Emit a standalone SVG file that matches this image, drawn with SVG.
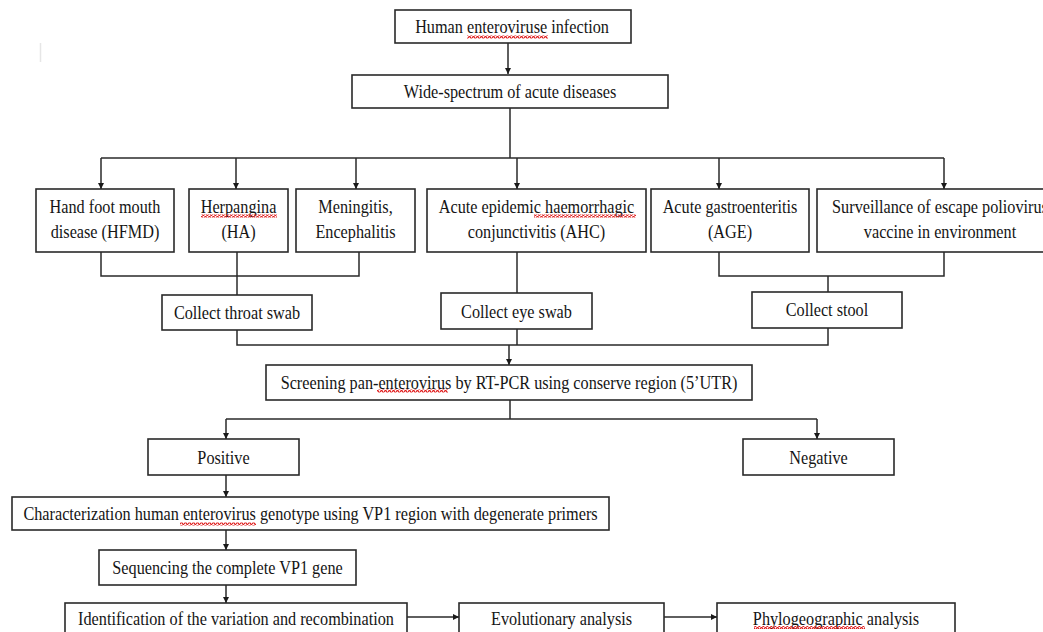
<svg xmlns="http://www.w3.org/2000/svg" width="1043" height="632" viewBox="0 0 1043 632">
<style>
.box{fill:#fff;stroke:#2a2a2a;stroke-width:1.6}
.ln{fill:none;stroke:#2a2a2a;stroke-width:1.5}
.ar{fill:none;stroke:#2a2a2a;stroke-width:1.5;marker-end:url(#ah)}
text{font-family:"Liberation Serif","Times New Roman",serif;font-size:19px;fill:#151515;text-anchor:middle}
.wv{fill:url(#wavy)}
</style>
<defs>
<marker id="ah" viewBox="0 0 10 10" refX="10" refY="5" markerWidth="6" markerHeight="7" markerUnits="userSpaceOnUse" orient="auto">
<path d="M0,0 L10,5 L0,10 Z" fill="#1a1a1a"/>
</marker>
<pattern id="wavy" width="4" height="3" patternUnits="userSpaceOnUse">
<path d="M0,2.3 L1,0.7 L2,0.7 L3,2.3 L4,2.3" fill="none" stroke="#e02020" stroke-width="1.2"/>
</pattern>
</defs>
<rect width="1043" height="632" fill="#fff"/>
<line x1="40.5" y1="43" x2="40.5" y2="62" stroke="#e6e6e6" stroke-width="1.5"/>

<g id="connectors">
<line class="ar" x1="508" y1="43" x2="508" y2="74"/>
<polyline class="ln" points="510,108 510,158"/>
<line class="ln" x1="101" y1="158" x2="944" y2="158"/>
<line class="ar" x1="101" y1="158" x2="101" y2="189"/>
<line class="ar" x1="236" y1="158" x2="236" y2="189"/>
<line class="ar" x1="356" y1="158" x2="356" y2="189"/>
<line class="ar" x1="517" y1="158" x2="517" y2="189"/>
<line class="ar" x1="719" y1="158" x2="719" y2="189"/>
<line class="ar" x1="944" y1="158" x2="944" y2="189"/>
<polyline class="ln" points="101,252 101,276 359,276 359,252"/>
<line class="ln" x1="237" y1="252" x2="237" y2="295"/>
<line class="ln" x1="517" y1="252" x2="517" y2="293"/>
<polyline class="ln" points="719,252 719,276 944,276 944,252"/>
<line class="ln" x1="828" y1="276" x2="828" y2="292"/>
<polyline class="ln" points="237,330 237,345 828,345 828,328"/>
<line class="ln" x1="517" y1="329" x2="517" y2="345"/>
<line class="ar" x1="509" y1="345" x2="509" y2="365"/>
<line class="ln" x1="510" y1="400" x2="510" y2="419"/>
<line class="ln" x1="226" y1="419" x2="817" y2="419"/>
<line class="ar" x1="226" y1="419" x2="226" y2="439"/>
<line class="ar" x1="817" y1="419" x2="817" y2="439"/>
<line class="ar" x1="226" y1="475" x2="226" y2="497"/>
<line class="ar" x1="226" y1="530" x2="226" y2="550"/>
<line class="ar" x1="226" y1="585" x2="226" y2="603"/>
<line class="ar" x1="407" y1="617" x2="459" y2="617"/>
<line class="ar" x1="664" y1="617" x2="717" y2="617"/>
</g>

<g id="n-infection">
<rect class="box" x="395" y="10" width="236" height="33"/>
<text transform="translate(512,33) scale(0.855,1)">Human enteroviruse infection</text>
<rect class="wv" x="467" y="35.5" width="81" height="3"/>
</g>
<g id="n-wide">
<rect class="box" x="352" y="75" width="316" height="33"/>
<text transform="translate(510,98) scale(0.855,1)">Wide-spectrum of acute diseases</text>
</g>
<g id="n-hfmd">
<rect class="box" x="36" y="189" width="138" height="63"/>
<text transform="translate(105,213) scale(0.855,1)"><tspan x="0">Hand foot mouth</tspan><tspan x="0" dy="25.5">disease (HFMD)</tspan></text>
</g>
<g id="n-ha">
<rect class="box" x="189" y="189" width="99" height="63"/>
<text transform="translate(238.5,213) scale(0.855,1)"><tspan x="0">Herpangina</tspan><tspan x="0" dy="25.5">(HA)</tspan></text>
<rect class="wv" x="201" y="214.5" width="76" height="3"/>
</g>
<g id="n-men">
<rect class="box" x="296" y="189" width="119" height="63"/>
<text transform="translate(355.5,213) scale(0.855,1)"><tspan x="0">Meningitis,</tspan><tspan x="0" dy="25.5">Encephalitis</tspan></text>
</g>
<g id="n-ahc">
<rect class="box" x="427" y="189" width="219" height="63"/>
<text transform="translate(536.5,213) scale(0.855,1)"><tspan x="0">Acute epidemic haemorrhagic</tspan><tspan x="0" dy="25.5">conjunctivitis (AHC)</tspan></text>
<rect class="wv" x="534" y="214.5" width="102" height="3"/>
</g>
<g id="n-age">
<rect class="box" x="651" y="189" width="158" height="63"/>
<text transform="translate(730,213) scale(0.855,1)"><tspan x="0">Acute gastroenteritis</tspan><tspan x="0" dy="25.5">(AGE)</tspan></text>
</g>
<g id="n-surv">
<rect class="box" x="817" y="189" width="250" height="63"/>
<text transform="translate(940,213) scale(0.855,1)"><tspan x="0">Surveillance of escape poliovirus</tspan><tspan x="0" dy="25.5">vaccine in environment</tspan></text>
</g>
<g id="n-throat">
<rect class="box" x="162" y="295" width="150" height="35"/>
<text transform="translate(237,318.5) scale(0.855,1)">Collect throat swab</text>
</g>
<g id="n-eye">
<rect class="box" x="441" y="293" width="151" height="36"/>
<text transform="translate(516.5,317.5) scale(0.855,1)">Collect eye swab</text>
</g>
<g id="n-stool">
<rect class="box" x="752" y="292" width="150" height="36"/>
<text transform="translate(827,316) scale(0.855,1)">Collect stool</text>
</g>
<g id="n-screen">
<rect class="box" x="266" y="365" width="486" height="35"/>
<text transform="translate(509,389) scale(0.855,1)">Screening pan-enterovirus by RT-PCR using conserve region (5’UTR)</text>
<rect class="wv" x="377" y="389.5" width="71" height="3"/>
</g>
<g id="n-pos">
<rect class="box" x="148" y="439" width="151" height="36"/>
<text transform="translate(223.5,463.5) scale(0.855,1)">Positive</text>
</g>
<g id="n-neg">
<rect class="box" x="743" y="439" width="151" height="36"/>
<text transform="translate(818.5,463.5) scale(0.855,1)">Negative</text>
</g>
<g id="n-char">
<rect class="box" x="12" y="497" width="597" height="33"/>
<text transform="translate(310.5,520) scale(0.855,1)">Characterization human enterovirus genotype using VP1 region with degenerate primers</text>
<rect class="wv" x="180" y="522.5" width="76" height="3"/>
</g>
<g id="n-seq">
<rect class="box" x="99" y="550" width="257" height="35"/>
<text transform="translate(227.5,573.5) scale(0.855,1)">Sequencing the complete VP1 gene</text>
</g>
<g id="n-ident">
<rect class="box" x="65" y="603" width="342" height="40"/>
<text transform="translate(236,625) scale(0.855,1)">Identification of the variation and recombination</text>
</g>
<g id="n-evo">
<rect class="box" x="459" y="603" width="205" height="40"/>
<text transform="translate(561.5,625) scale(0.855,1)">Evolutionary analysis</text>
</g>
<g id="n-phylo">
<rect class="box" x="717" y="603" width="238" height="40"/>
<text transform="translate(836,625) scale(0.855,1)">Phylogeographic analysis</text>
<rect class="wv" x="754" y="626" width="111" height="3"/>
</g>
</svg>
